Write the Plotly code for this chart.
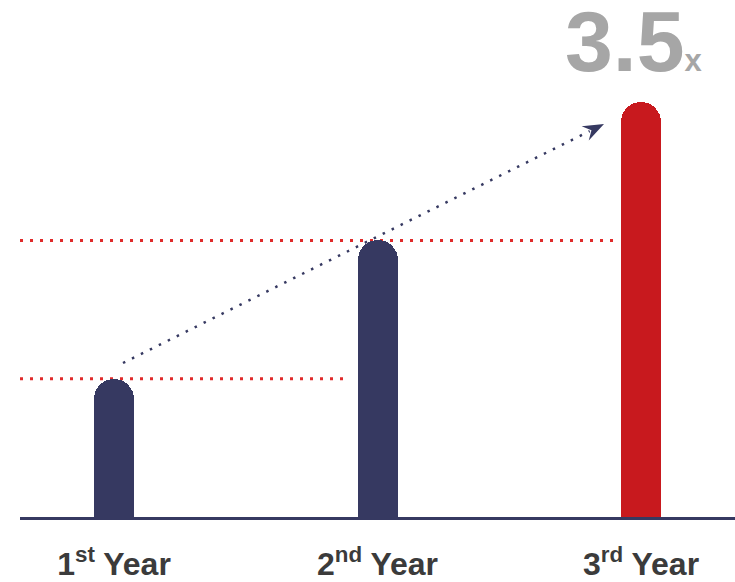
import plotly.graph_objects as go
import math

# ---- data ----
categories = ["1<sup>st</sup> Year", "2<sup>nd</sup> Year", "3<sup>rd</sup> Year"]
values = [1.0, 2.0, 3.0]
bar_colors = ["#363961", "#363961", "#c8191e"]
multiplier_text = "3.5"
multiplier_unit = "x"

W, H = 735, 582
ML, MB = 20, 65
PW, PH = W - ML, H - MB

# axis scales (pixel <-> data)
X0_PX, X_UNIT = 114, 263.5   # centre of first category, pixels per category
Y_UNIT = 138.3               # pixels per value unit
x_range = [(ML - X0_PX) / X_UNIT, (W - X0_PX) / X_UNIT]
y_range = [0, PH / Y_UNIT]

def xd(px):
    return (px - X0_PX) / X_UNIT

def yd(py):
    return (PH - py) / Y_UNIT

idx = list(range(len(categories)))

fig = go.Figure()
fig.add_trace(go.Bar(
    x=idx, y=values,
    width=40 / X_UNIT,
    marker=dict(color=bar_colors, cornerradius=20, line=dict(width=0)),
    hoverinfo="skip",
))

shapes = []
red = "#e02a2a"
shapes.append(dict(type="line", xref="x", yref="y",
                   x0=xd(20), x1=xd(350), y0=values[0], y1=values[0],
                   line=dict(color=red, width=3, dash="3px,7px"), layer="below"))
shapes.append(dict(type="line", xref="x", yref="y",
                   x0=xd(20), x1=xd(617), y0=values[1], y1=values[1],
                   line=dict(color=red, width=3, dash="3px,7px"), layer="below"))

# dotted navy arrow
navy = "#363961"
sx, sy = 123, 363
tx, ty = 604, 124
dx, dy = tx - sx, ty - sy
L = math.hypot(dx, dy)
ux, uy = dx / L, dy / L
nx, ny = -uy, ux
ex, ey = tx - 16 * ux, ty - 16 * uy
shapes.append(dict(type="line", xref="x", yref="y",
                   x0=xd(sx), y0=yd(sy), x1=xd(ex), y1=yd(ey),
                   line=dict(color=navy, width=2.5, dash="2.5px,7.5px")))
bx, by = tx - 21 * ux, ty - 21 * uy
c1 = (bx + 8 * nx, by + 8 * ny)
c2 = (bx - 8 * nx, by - 8 * ny)
nt = (tx - 14 * ux, ty - 14 * uy)
path = "M {} {} L {} {} L {} {} L {} {} Z".format(
    xd(tx), yd(ty), xd(c1[0]), yd(c1[1]), xd(nt[0]), yd(nt[1]), xd(c2[0]), yd(c2[1]))
shapes.append(dict(type="path", xref="x", yref="y", path=path,
                   fillcolor=navy, line=dict(width=0)))

fig.update_layout(
    width=W, height=H,
    margin=dict(l=ML, r=0, t=0, b=MB, pad=0),
    paper_bgcolor="white", plot_bgcolor="white",
    showlegend=False,
    shapes=shapes,
    bargap=0,
    xaxis=dict(range=x_range, tickmode="array", tickvals=idx, ticktext=categories,
               showgrid=False, zeroline=False, showline=True,
               linecolor="#363961", linewidth=3, ticks="",
               ticklabelstandoff=17,
               tickfont=dict(family="Liberation Sans, Arial, sans-serif", size=32,
                             color="#3b3b3b", weight="bold"),
               fixedrange=True),
    yaxis=dict(range=y_range, visible=False, fixedrange=True),
    annotations=[dict(
        xref="paper", yref="paper",
        x=(563 - ML) / PW, y=(PH - 91) / PH,
        xanchor="left", yanchor="bottom", showarrow=False,
        text=multiplier_text + "<span style='font-size:31px'>" + multiplier_unit + "</span>",
        font=dict(family="Liberation Sans, Arial, sans-serif", size=86,
                  color="#a6a6a6", weight="bold"),
    )],
)

fig.write_html("out.html")
